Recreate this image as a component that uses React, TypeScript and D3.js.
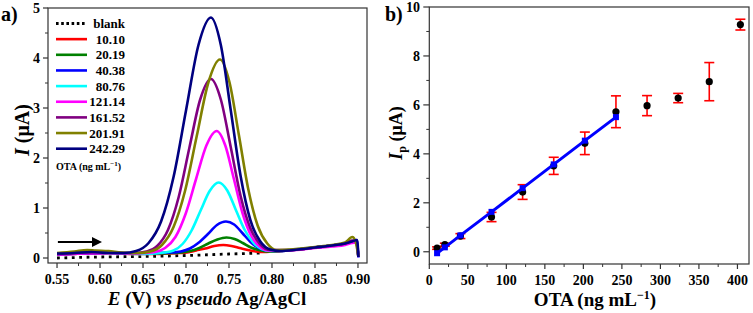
import React from "react";
import * as d3 from "d3";

// ---------- Panel a) data: DPV curves, [E (V), I (µA)] ----------
const seriesLabels = ["blank", "10.10", "20.19", "40.38", "80.76", "121.14", "161.52", "201.91", "242.29"];
const seriesColors = ["#000000", "#ff0000", "#008000", "#0000ff", "#00ffff", "#ff00ff", "#800080", "#808000", "#000080"];

const curveBlank = [[0.55, 0.0], [0.60, 0.02], [0.65, 0.03], [0.70, 0.05], [0.75, 0.08], [0.79, 0.10]];
const curve10 = [[0.55, 0.07], [0.58, 0.09], [0.61, 0.10], [0.64, 0.08], [0.66, 0.08], [0.6804, 0.09], [0.6909, 0.10], [0.7014, 0.11], [0.7119, 0.15], [0.7224, 0.19], [0.7329, 0.24], [0.7434, 0.26], [0.7529, 0.24], [0.7624, 0.20], [0.7719, 0.16], [0.7814, 0.13], [0.7909, 0.12], [0.81, 0.14], [0.83, 0.17], [0.85, 0.21], [0.87, 0.25], [0.885, 0.28], [0.893, 0.32], [0.898, 0.32], [0.9005, 0.02]];
const curve20 = [[0.55, 0.08], [0.58, 0.10], [0.61, 0.11], [0.64, 0.09], [0.665, 0.09], [0.684, 0.10], [0.6945, 0.11], [0.705, 0.14], [0.7155, 0.20], [0.726, 0.29], [0.7365, 0.37], [0.747, 0.41], [0.7565, 0.38], [0.766, 0.30], [0.7755, 0.21], [0.785, 0.16], [0.7945, 0.13], [0.81, 0.14], [0.83, 0.17], [0.85, 0.21], [0.87, 0.25], [0.885, 0.29], [0.893, 0.33], [0.898, 0.33], [0.9005, 0.02]];
const curve40 = [[0.55, 0.07], [0.58, 0.09], [0.61, 0.10], [0.64, 0.09], [0.66, 0.10], [0.6835, 0.11], [0.694, 0.13], [0.7045, 0.19], [0.715, 0.31], [0.7255, 0.48], [0.736, 0.66], [0.7465, 0.73], [0.756, 0.67], [0.7655, 0.50], [0.775, 0.32], [0.7845, 0.20], [0.794, 0.15], [0.81, 0.14], [0.83, 0.17], [0.85, 0.21], [0.87, 0.25], [0.885, 0.29], [0.893, 0.33], [0.8985, 0.36], [0.9005, 0.01]];
const curve80 = [[0.55, 0.08], [0.575, 0.10], [0.595, 0.12], [0.62, 0.10], [0.645, 0.08], [0.6645, 0.09], [0.675, 0.11], [0.6855, 0.15], [0.696, 0.28], [0.7065, 0.55], [0.717, 0.95], [0.7275, 1.34], [0.738, 1.51], [0.748, 1.35], [0.758, 0.96], [0.768, 0.57], [0.778, 0.31], [0.788, 0.18], [0.798, 0.14], [0.82, 0.16], [0.85, 0.21], [0.87, 0.25], [0.885, 0.29], [0.893, 0.34], [0.898, 0.33], [0.9005, 0.02]];
const curve121 = [[0.55, 0.07], [0.58, 0.09], [0.61, 0.10], [0.635, 0.09], [0.6517, 0.10], [0.6637, 0.12], [0.6757, 0.20], [0.6877, 0.42], [0.6997, 0.89], [0.7117, 1.58], [0.7237, 2.25], [0.7357, 2.54], [0.7457, 2.25], [0.7557, 1.58], [0.7657, 0.90], [0.7757, 0.45], [0.7857, 0.23], [0.7957, 0.15], [0.82, 0.15], [0.85, 0.20], [0.87, 0.23], [0.885, 0.26], [0.893, 0.30], [0.898, 0.31], [0.9005, 0.02]];
const curve161 = [[0.55, 0.08], [0.575, 0.10], [0.595, 0.12], [0.615, 0.11], [0.63, 0.10], [0.6415, 0.10], [0.654, 0.13], [0.6665, 0.24], [0.679, 0.56], [0.6915, 1.22], [0.704, 2.21], [0.7165, 3.17], [0.729, 3.58], [0.7405, 3.17], [0.752, 2.22], [0.7635, 1.24], [0.775, 0.59], [0.7865, 0.27], [0.798, 0.16], [0.82, 0.16], [0.85, 0.21], [0.87, 0.25], [0.885, 0.29], [0.893, 0.35], [0.898, 0.33], [0.9005, 0.02]];
const curve201 = [[0.55, 0.10], [0.57, 0.13], [0.585, 0.16], [0.595, 0.15], [0.61, 0.14], [0.625, 0.11], [0.645, 0.10], [0.6585, 0.13], [0.672, 0.26], [0.6855, 0.62], [0.699, 1.35], [0.7125, 2.44], [0.726, 3.51], [0.7395, 3.97], [0.7505, 3.52], [0.7615, 2.46], [0.7725, 1.37], [0.7835, 0.64], [0.7945, 0.29], [0.8055, 0.16], [0.82, 0.17], [0.85, 0.22], [0.87, 0.26], [0.885, 0.31], [0.8935, 0.42], [0.897, 0.34], [0.9005, 0.03]];
const curve242 = [[0.55, 0.09], [0.57, 0.10], [0.59, 0.12], [0.61, 0.10], [0.6275, 0.10], [0.642, 0.14], [0.6565, 0.30], [0.671, 0.73], [0.6855, 1.62], [0.700, 2.95], [0.7145, 4.26], [0.729, 4.81], [0.7405, 4.26], [0.752, 2.96], [0.7635, 1.64], [0.775, 0.75], [0.7865, 0.33], [0.798, 0.17], [0.8095, 0.14], [0.83, 0.17], [0.85, 0.21], [0.87, 0.25], [0.885, 0.29], [0.893, 0.33], [0.899, 0.36], [0.9005, 0.02]];

const allCurves = [curveBlank, curve10, curve20, curve40, curve80, curve121, curve161, curve201, curve242];

const xTicksA = [0.55, 0.60, 0.65, 0.70, 0.75, 0.80, 0.85, 0.90];
const xTickLabelsA = ["0.55", "0.60", "0.65", "0.70", "0.75", "0.80", "0.85", "0.90"];
const yTicksA = [0, 1, 2, 3, 4, 5];

// ---------- Panel b) data: calibration ----------
const otaConc = [10.10, 20.19, 40.38, 80.76, 121.14, 161.52, 201.91, 242.29, 282.67, 323.05, 363.43, 403.81];
const ipMean = [0.15, 0.29, 0.64, 1.42, 2.44, 3.51, 4.43, 5.72, 5.97, 6.28, 6.95, 9.28];
const ipErr = [0.05, 0.06, 0.10, 0.19, 0.30, 0.35, 0.46, 0.65, 0.41, 0.19, 0.78, 0.22];
const fitConc = [10.10, 20.19, 40.38, 80.76, 121.14, 161.52, 201.91, 242.29];
const fitIp = [-0.06, 0.18, 0.67, 1.63, 2.60, 3.57, 4.54, 5.50];

const xTicksB = [0, 50, 100, 150, 200, 250, 300, 350, 400];
const yTicksB = [0, 2, 4, 6, 8, 10];

const FONT = "'Liberation Serif', 'Times New Roman', Times, serif";

export default function App() {
  // panel a scales
  const xA = d3.scaleLinear().domain([0.5395, 0.9105]).range([48, 367]);
  const yA = d3.scaleLinear().domain([-0.1, 5]).range([263, 8]);
  // panel b scales
  const xB = d3.scaleLinear().domain([0, 415]).range([429.3, 749]);
  const yB = d3.scaleLinear().domain([-0.5, 10]).range([264, 7]);

  const lineA = d3
    .line<number[]>()
    .x((d) => xA(d[0]))
    .y((d) => yA(d[1]))
    .curve(d3.curveMonotoneX);

  const fitLine = d3
    .line<number>()
    .x((d, i) => xB(fitConc[i]))
    .y((d) => yB(d));

  const xMinorA = xTicksA.slice(0, -1).map((t) => t + 0.025);
  const yMinorA = yTicksA.slice(0, -1).map((t) => t + 0.5);
  const xMinorB = xTicksB.map((t) => t + 25).filter((t) => t < 415);
  const yMinorB = yTicksB.slice(0, -1).map((t) => t + 1);

  const [x0A, x1A] = xA.range();
  const [y0A, y1A] = yA.range();
  const [x0B, x1B] = xB.range();
  const [y0B, y1B] = yB.range();

  const legendY = (i: number) => 23.5 + i * 15.65;

  return (
    <svg
      width={753}
      height={313}
      style={{ position: "absolute", left: 0, top: 0, background: "#fff" }}
      fontFamily={FONT}
    >
      <defs>
        <marker id="arrowHead" viewBox="0 0 10 10" refX="2" refY="5" markerWidth="5" markerHeight="5" orient="auto">
          <path d="M0,0 L10,5 L0,10 z" fill="#000" />
        </marker>
      </defs>

      {/* ================= Panel a ================= */}
      <text x={1} y={21} fontSize={20} fontWeight="bold">a)</text>

      {/* curves */}
      <g fill="none">
        {allCurves.map((c, i) => (
          <path
            key={i}
            d={lineA(c) || ""}
            stroke={seriesColors[i]}
            strokeWidth={i === 0 ? 2.8 : 2.6}
            strokeDasharray={i === 0 ? "2.8,4.6" : undefined}
            strokeLinejoin="round"
          />
        ))}
      </g>

      {/* scan direction arrow */}
      <line
        x1={xA(0.551)}
        x2={xA(0.593)}
        y1={yA(0.32)}
        y2={yA(0.32)}
        stroke="#000"
        strokeWidth={2}
        markerEnd="url(#arrowHead)"
      />

      {/* frame */}
      <rect x={x0A} y={y1A} width={x1A - x0A} height={y0A - y1A} fill="none" stroke="#333" strokeWidth={1.2} />

      {/* x ticks */}
      {xTicksA.map((t, i) => (
        <g key={"xa" + i}>
          <line x1={xA(t)} x2={xA(t)} y1={y0A} y2={y0A + 5} stroke="#333" strokeWidth={1.2} />
          <text x={xA(t)} y={284} fontSize={14} fontWeight="bold" textAnchor="middle">{xTickLabelsA[i]}</text>
        </g>
      ))}
      {xMinorA.map((t, i) => (
        <line key={"xam" + i} x1={xA(t)} x2={xA(t)} y1={y0A} y2={y0A + 3} stroke="#333" strokeWidth={1} />
      ))}
      {/* y ticks */}
      {yTicksA.map((t) => (
        <g key={"ya" + t}>
          <line x1={x0A - 5} x2={x0A} y1={yA(t)} y2={yA(t)} stroke="#333" strokeWidth={1.2} />
          <text x={40} y={yA(t) + 5} fontSize={14} fontWeight="bold" textAnchor="end">{t}</text>
        </g>
      ))}
      {yMinorA.map((t, i) => (
        <line key={"yam" + i} x1={x0A - 3} x2={x0A} y1={yA(t)} y2={yA(t)} stroke="#333" strokeWidth={1} />
      ))}

      {/* axis titles */}
      <text x={207} y={305} fontSize={19} fontWeight="bold" textAnchor="middle">
        <tspan fontStyle="italic">E</tspan> (V) <tspan fontStyle="italic">vs pseudo</tspan> Ag/AgCl
      </text>
      <text transform="translate(29,130) rotate(-90)" fontSize={20} fontWeight="bold" textAnchor="middle">
        <tspan fontStyle="italic">I</tspan> (μA)
      </text>

      {/* legend */}
      {seriesLabels.map((lab, i) => (
        <g key={"lg" + i}>
          <line
            x1={56}
            x2={87}
            y1={legendY(i)}
            y2={legendY(i)}
            stroke={seriesColors[i]}
            strokeWidth={i === 0 ? 2.8 : 2.6}
            strokeDasharray={i === 0 ? "2.6,2.6" : undefined}
          />
          <text x={125} y={legendY(i) + 4.5} fontSize={13} fontWeight="bold" textAnchor="end">{lab}</text>
        </g>
      ))}
      <text x={56} y={169.5} fontSize={10} fontWeight="bold">
        OTA (ng mL<tspan dy={-4} fontSize={7}>−1</tspan><tspan dy={4}>)</tspan>
      </text>

      {/* ================= Panel b ================= */}
      <text x={385} y={21} fontSize={20} fontWeight="bold">b)</text>

      {/* error bars */}
      <g stroke="#ff0000" strokeWidth={1.6}>
        {otaConc.map((c, i) => {
          const cx = xB(c);
          const lo = yB(ipMean[i] - ipErr[i]);
          const hi = yB(ipMean[i] + ipErr[i]);
          return (
            <g key={"eb" + i}>
              <line x1={cx} x2={cx} y1={lo} y2={hi} />
              <line x1={cx - 5} x2={cx + 5} y1={lo} y2={lo} />
              <line x1={cx - 5} x2={cx + 5} y1={hi} y2={hi} />
            </g>
          );
        })}
      </g>
      {/* mean points */}
      {otaConc.map((c, i) => (
        <circle key={"pt" + i} cx={xB(c)} cy={yB(ipMean[i])} r={3.6} fill="#000" />
      ))}
      {/* linear fit */}
      <path d={fitLine(fitIp) || ""} fill="none" stroke="#0000ff" strokeWidth={3} />
      {fitIp.map((v, i) => (
        <rect key={"fq" + i} x={xB(fitConc[i]) - 3} y={yB(v) - 3} width={6} height={6} fill="#0000ff" />
      ))}

      {/* frame */}
      <rect x={x0B} y={y1B} width={x1B - x0B} height={y0B - y1B} fill="none" stroke="#333" strokeWidth={1.2} />

      {xTicksB.map((t) => (
        <g key={"xb" + t}>
          <line x1={xB(t)} x2={xB(t)} y1={y0B} y2={y0B + 5} stroke="#333" strokeWidth={1.2} />
          <text x={xB(t)} y={285} fontSize={14} fontWeight="bold" textAnchor="middle">{t}</text>
        </g>
      ))}
      {xMinorB.map((t) => (
        <line key={"xbm" + t} x1={xB(t)} x2={xB(t)} y1={y0B} y2={y0B + 3} stroke="#333" strokeWidth={1} />
      ))}
      {yTicksB.map((t) => (
        <g key={"yb" + t}>
          <line x1={x0B - 6} x2={x0B} y1={yB(t)} y2={yB(t)} stroke="#333" strokeWidth={1.2} />
          <text x={420} y={yB(t) + 5} fontSize={14} fontWeight="bold" textAnchor="end">{t}</text>
        </g>
      ))}
      {yMinorB.map((t) => (
        <line key={"ybm" + t} x1={x0B - 3} x2={x0B} y1={yB(t)} y2={yB(t)} stroke="#333" strokeWidth={1} />
      ))}

      <text x={595} y={306} fontSize={19} fontWeight="bold" textAnchor="middle">
        OTA (ng mL<tspan dy={-7} fontSize={12}>−1</tspan><tspan dy={7}>)</tspan>
      </text>
      <text transform="translate(402,133) rotate(-90)" fontSize={18} fontWeight="bold" textAnchor="middle">
        <tspan fontStyle="italic">I</tspan>
        <tspan dy={4} fontSize={12}>p</tspan>
        <tspan dy={-4}> (μA)</tspan>
      </text>
    </svg>
  );
}
